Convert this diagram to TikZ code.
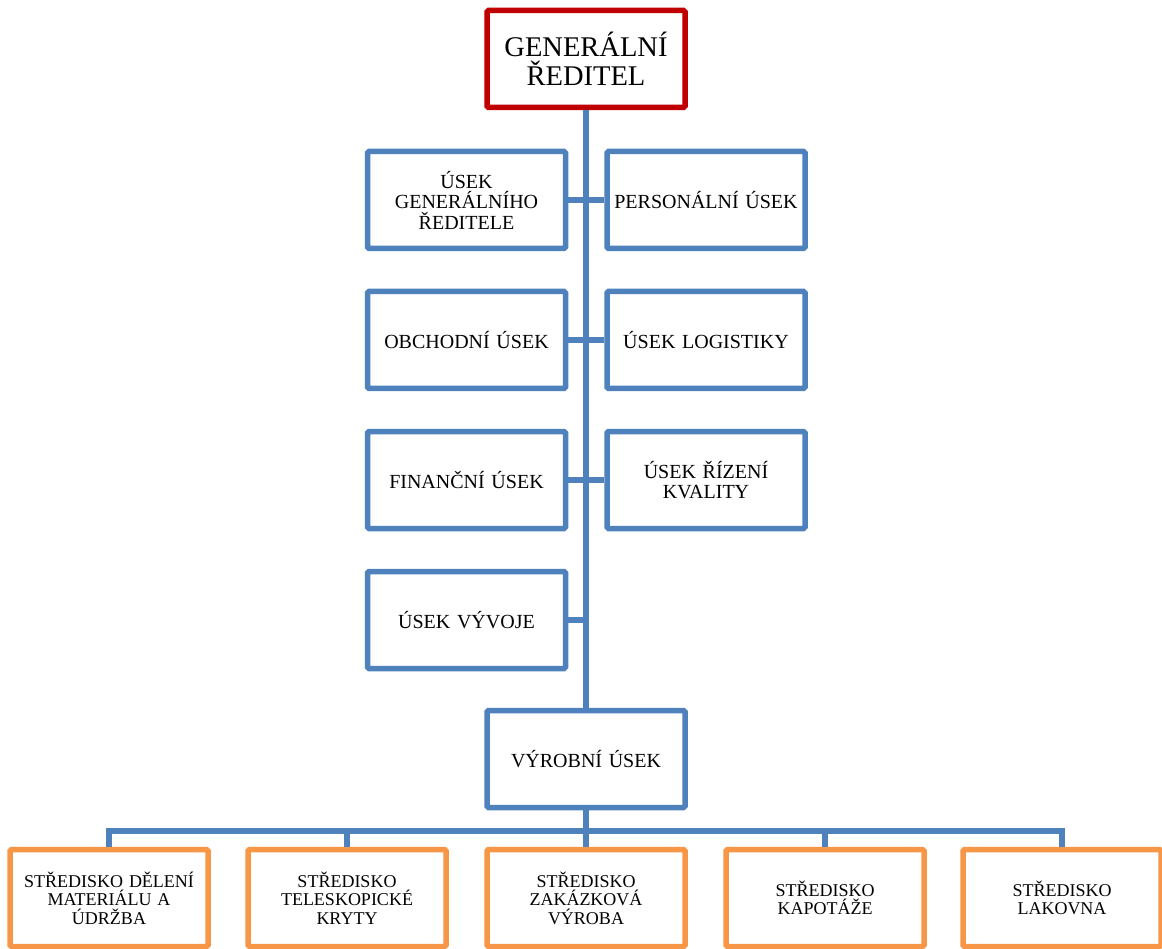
\documentclass[tikz,border=0pt]{standalone}
\usepackage{fontspec}
\setmainfont{Liberation Serif}
\usepackage{tikz}

\definecolor{unitblue}{HTML}{4F81BD}
\definecolor{headred}{HTML}{C00000}
\definecolor{centreorange}{HTML}{F79646}

\tikzset{
	unit/.style={draw=unitblue, line width=5.5pt, rounded corners=1.5pt,
		minimum width=198pt, minimum height=97pt, inner sep=0pt,
		text width=192pt, align=center, font=\fontsize{20}{20.5}\selectfont},
	head/.style={unit, draw=headred, font=\fontsize{28.5}{28.5}\selectfont},
	centre/.style={unit, draw=centreorange, font=\fontsize{18}{18.5}\selectfont},
	link/.style={draw=unitblue, line width=5.5pt}
}

\begin{document}
\begin{tikzpicture}[x=1pt,y=-1pt]
				\useasboundingbox (0,0) rectangle (1162,949);
				\node[head] (gr) at (586,59) {GENERÁLNÍ\\ŘEDITEL};
				\node[unit] (vyr) at (586,759) {VÝROBNÍ ÚSEK};
				\draw[link] (gr) -- (vyr);
				
				% left column
				\foreach \nm/\y/\lbl in
				{ugr/200/{ÚSEK\\GENERÁLNÍHO\\ŘEDITELE}, obch/340/{OBCHODNÍ ÚSEK},
				 fin/480/{FINANČNÍ ÚSEK}, vyv/620/{ÚSEK VÝVOJE}}{
					\node[unit] (\nm) at (466.5,\y) {\lbl};
					\draw[link] (\nm.east) -- (\nm.east -| gr.south);
				}
				
				% right column
				\foreach \nm/\y/\lbl in
				{pers/200/{PERSONÁLNÍ ÚSEK}, log/340/{ÚSEK LOGISTIKY},
				 kval/480/{ÚSEK ŘÍZENÍ\\KVALITY}}{
					\node[unit] (\nm) at (706,\y) {\lbl};
					\draw[link] (\nm.west) -- (\nm.west -| gr.south);
				}
				
				% production centres
				\coordinate (bus) at (586,831);
				\draw[link] (vyr) -- (bus);
				\foreach \nm/\x/\lbl in
				{s1/109/{STŘEDISKO DĚLENÍ\\MATERIÁLU A\\ÚDRŽBA}, s2/347/{STŘEDISKO\\TELESKOPICKÉ\\KRYTY},
				 s3/586/{STŘEDISKO\\ZAKÁZKOVÁ\\VÝROBA}, s4/825/{STŘEDISKO\\KAPOTÁŽE},
				 s5/1062/{STŘEDISKO\\LAKOVNA}}{
					\node[centre] (\nm) at (\x,898) {\lbl};
					\draw[link] (\nm.north) |- (bus);
				}
			\end{tikzpicture}
\end{document}
